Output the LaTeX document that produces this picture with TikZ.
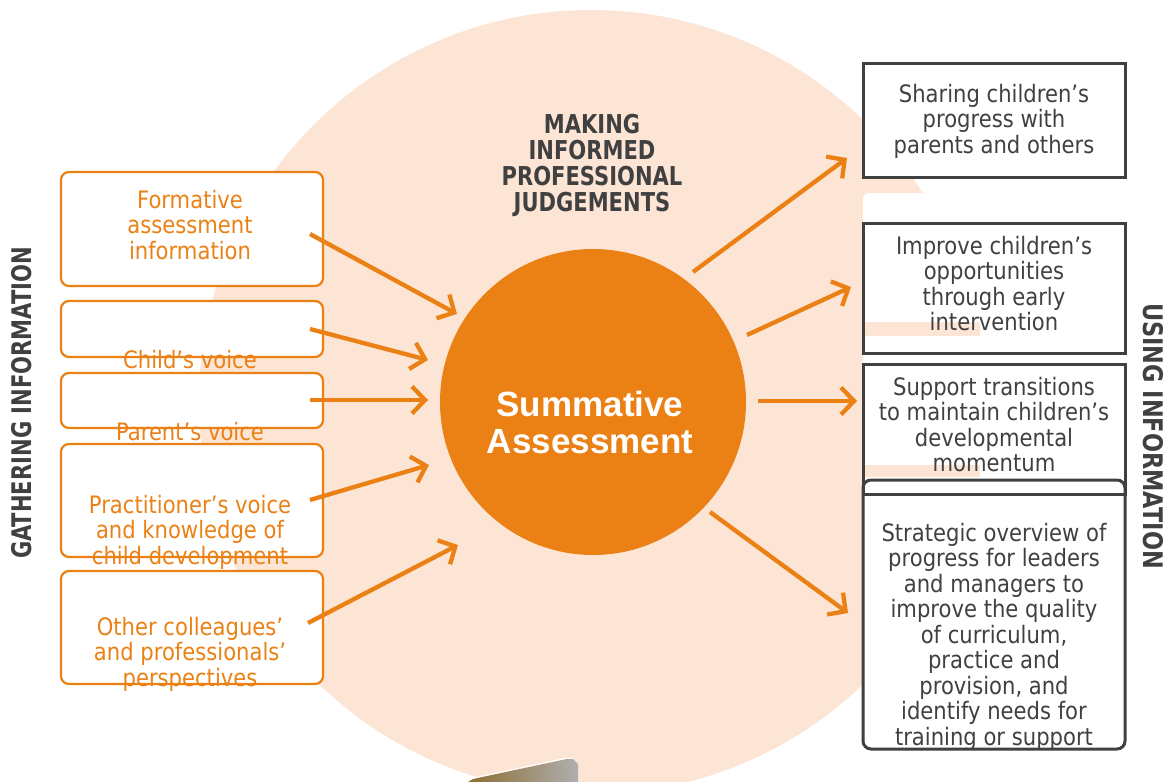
\documentclass[tikz,border=0pt]{standalone}
\usepackage{fontspec}
\setmainfont{DejaVu Sans}[FakeStretch=0.88]
\newfontfamily\headfont{DejaVu Sans}[FakeStretch=0.81]
\newfontfamily\gatherfont{DejaVu Sans}[FakeStretch=0.78]
\newfontfamily\usingfont{DejaVu Sans}[FakeStretch=0.83]
\newfontfamily\sumfont{Liberation Sans}
\usetikzlibrary{arrows.meta}
\definecolor{orng}{RGB}{235,128,20}
\definecolor{pale}{RGB}{253,229,213}
\definecolor{dgray}{RGB}{64,64,64}
\newcommand{\mlines}[1]{\parbox[t]{340pt}{\centering #1}}
\tikzset{
  lbox/.style={draw=orng, line width=2.2pt, rounded corners=8pt, fill=white, minimum width=262pt, inner sep=0pt},
  rbox/.style={draw=dgray, line width=3pt, fill=white, minimum width=262pt, inner sep=0pt},
  ltext/.style={anchor=base, inner sep=0pt, text=orng, font=\fontsize{24}{25.5}\selectfont},
  rtext/.style={anchor=base, inner sep=0pt, text=dgray, font=\fontsize{24}{25.5}\selectfont},
  arr/.style={draw=orng, line width=4.3pt, -{Straight Barb[length=13pt,width=27pt]}},
}
\begin{document}
\begin{tikzpicture}[x=1pt,y=-1pt]
\useasboundingbox (0,0) rectangle (1171,782);
\clip (0,0) rectangle (1171,782);
\fill[white] (0,0) rectangle (1171,782);
% pale background circle
\fill[pale] (591,402) circle (392pt);
% white area behind right boxes
\fill[white, rounded corners=6pt] (863,193) rectangle (1135,770);
% image fragment at bottom
\shade[left color={rgb,255:red,140;green,110;blue,50}, middle color={rgb,255:red,225;green,225;blue,220}, right color={rgb,255:red,175;green,175;blue,175}]
  (468,782) -- (473,779) -- (567,759) -- (573,759) -- (578,764) -- (578,782) -- cycle;
\draw[white, line width=1pt] (462,781) -- (473,778) -- (567,758) -- (573,758);

% left boxes
\node[lbox, minimum height=114pt] (l1) at (192,229) {};
\node[lbox, minimum height=56pt] (l2) at (192,329) {};
\node[lbox, minimum height=55pt] (l3) at (192,400.5) {};
\node[lbox, minimum height=113pt] (l4) at (192,500.5) {};
\node[lbox, minimum height=113pt] (l5) at (192,627.5) {};

% right boxes
\node[rbox, minimum height=114pt] (r1) at (994,120) {};
\node[rbox, minimum height=130pt] (r2) at (994,288) {};
\node[rbox, minimum height=130pt] (r3) at (994,429) {};
\node[rbox, fill=none, rounded corners=8pt, minimum height=269pt] (r4) at (994,614.5) {};
% pale strips showing through
\fill[pale] (865,322) rectangle (980,336);
\fill[pale] (865,465) rectangle (980,477);

% left texts
\node[ltext] (t1) at (190,208) {\mlines{Formative\\assessment\\information}};
\node[ltext] (t2) at (190,368) {\mlines{Child’s voice}};
\node[ltext] (t3) at (190,440) {\mlines{Parent’s voice}};
\node[ltext] (t4) at (190,513) {\mlines{Practitioner’s voice\\and knowledge of\\child development}};
\node[ltext] (t5) at (190,635) {\mlines{Other colleagues’\\and professionals’\\perspectives}};

% right texts
\node[rtext] (u1) at (994,102) {\mlines{Sharing children’s\\progress with\\parents and others}};
\node[rtext] (u2) at (994,254) {\mlines{Improve children’s\\opportunities\\through early\\intervention}};
\node[rtext] (u3) at (994,395) {\mlines{Support transitions\\to maintain children’s\\developmental\\momentum}};
\node[rtext] (u4) at (994,541) {\mlines{Strategic overview of\\progress for leaders\\and managers to\\improve the quality\\of curriculum,\\practice and\\provision, and\\identify needs for\\training or support}};

% heading
\node[anchor=base, inner sep=0pt, text=dgray, font=\headfont\bfseries\fontsize{26}{26.3}\selectfont] (head) at (592,133) {\mlines{MAKING\\INFORMED\\PROFESSIONAL\\JUDGEMENTS}};

% side labels
\node[rotate=90, inner sep=0pt, text=dgray, font=\gatherfont\bfseries\fontsize{27}{27}\selectfont] (gather) at (22,403) {GATHERING INFORMATION};
\node[rotate=-90, inner sep=0pt, text=dgray, font=\usingfont\bfseries\fontsize{27}{27}\selectfont] (using) at (1153,436) {USING INFORMATION};

% central circle
\node[circle, fill=orng, minimum size=306pt, inner sep=0pt] (sum) at (593,402) {};
\node[anchor=base, inner sep=0pt, text=white, font=\sumfont\bfseries\fontsize{35}{37}\selectfont] (sumtxt) at (590,416) {\mlines{Summative\\Assessment}};

% arrow end points
\coordinate (a1s) at (310,234); \coordinate (a1e) at (457,314);
\coordinate (a2s) at (310,329); \coordinate (a2e) at (428,360);
\coordinate (a3s) at (310,400); \coordinate (a3e) at (428,400);
\coordinate (a4s) at (310,500); \coordinate (a4e) at (429,465);
\coordinate (a5s) at (308,623); \coordinate (a5e) at (458,545);
\coordinate (b1s) at (693,272); \coordinate (b1e) at (847,158);
\coordinate (b2s) at (747,335); \coordinate (b2e) at (851,287);
\coordinate (b3s) at (758,401); \coordinate (b3e) at (857,401);
\coordinate (b4s) at (710,512); \coordinate (b4e) at (848,613);

\draw[arr] (a1s) -- (a1e);
\draw[arr] (a2s) -- (a2e);
\draw[arr] (a3s) -- (a3e);
\draw[arr] (a4s) -- (a4e);
\draw[arr] (a5s) -- (a5e);
\draw[arr] (b1s) -- (b1e);
\draw[arr] (b2s) -- (b2e);
\draw[arr] (b3s) -- (b3e);
\draw[arr] (b4s) -- (b4e);
\end{tikzpicture}
\end{document}
